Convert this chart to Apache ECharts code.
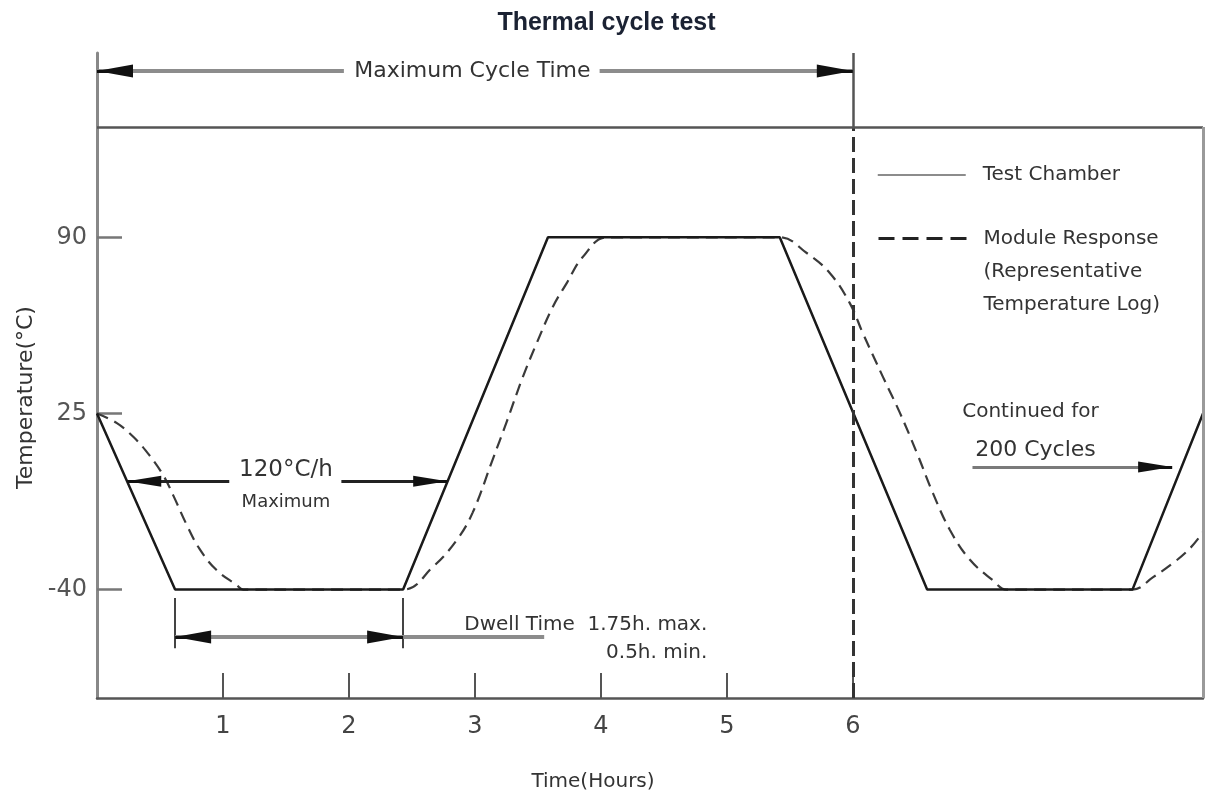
<!DOCTYPE html>
<html><head><meta charset="utf-8">
<script src="https://cdn.jsdelivr.net/npm/echarts@6.0.0/dist/echarts.min.js"></script>
<style>html,body{margin:0;padding:0;background:#fff}#c{width:1213px;height:799px}</style>
</head><body><div id="c"></div>
<script>
// ---- data (hours, °C) ----
const chamberTime = [0, 0.62, 2.43, 3.58, 5.42, 6.59, 8.22, 8.78];
const chamberTemp = [25, -40, -40, 90, 90, -40, -40, 25];
const moduleTime = [0, 0.155, 0.29, 0.417, 0.528, 0.608, 0.711, 0.814, 0.949, 1.108, 1.16, 2.43,
  2.665, 2.856, 2.983, 3.141, 3.253, 3.38, 3.491, 3.618, 3.729, 3.856, 4.05, 5.42,
  5.634, 5.817, 5.976, 6.079, 6.24, 6.374, 6.509, 6.636, 6.771, 6.93, 7.11, 7.22, 8.22,
  8.384, 8.543, 8.678, 8.78];
const moduleTemp = [25, 21.5, 16.3, 9.5, 2, -5.5, -16, -25, -32.8, -38.3, -40, -40,
  -31.7, -21.7, -11.5, 8, 22, 38.4, 51, 64.3, 73.1, 82.7, 90, 90,
  84.2, 76.8, 65.7, 54.7, 38.4, 25.2, 10.4, -4.4, -18, -29, -36.5, -40, -40,
  -35.4, -30.2, -24.7, -18.8];
const xTickValues = [1, 2, 3, 4, 5, 6];
const yTickValues = [-40, 25, 90];
const seriesNames = ['Test Chamber', 'Module Response (Representative Temperature Log)'];
const moduleLegendText = '\n\nModule Response\n(Representative\nTemperature Log)';
const titleText = 'Thermal cycle test';
const xName = 'Time(Hours)';
const yName = 'Temperature(°C)';

// annotation lines: [x1, y1, x2, y2, style]
const annoLines = [
  [0, 151.4, 1.96, 151.4, 'dimGrey'],
  [3.99, 151.4, 6, 151.4, 'dimGrey'],
  [6, 130.7, 6, 158, 'frame'],
  [6, -80, 6, 130.7, 'dash6'],
  [0, 130.7, 8.78, 130.7, 'frame'],
  [8.78, -80, 8.78, 130.7, 'frameLight'],
  [0.24, 0, 1.05, 0, 'dimBlack'],
  [1.94, 0, 2.78, 0, 'dimBlack'],
  [0.62, -43.1, 0.62, -61.6, 'tick'],
  [2.43, -43.1, 2.43, -61.6, 'tick'],
  [0.62, -57.5, 3.55, -57.5, 'dimGrey'],
  [6.95, 5.2, 8.535, 5.2, 'dimGrey2']
];
// arrow heads: [tipX, tipY, inward direction (+1 / -1 along x), size]
const arrowHeads = [
  [0, 151.4, 1, 'big'],
  [6, 151.4, -1, 'big'],
  [0.24, 0, 1, 'mid'],
  [2.78, 0, -1, 'mid'],
  [0.62, -57.5, 1, 'big'],
  [2.43, -57.5, -1, 'big'],
  [8.535, 5.2, -1, 'mid']
];
// annotation texts: [text, x, y, fontSize, align]
const annoTexts = [
  ['Maximum Cycle Time', 2.98, 151.4, 22, 'center'],
  ['120°C/h', 1.5, 4.1, 23, 'center'],
  ['Maximum', 1.5, -7.7, 18, 'center'],
  ['Dwell Time  1.75h. max.\n0.5h. min.', 4.845, -58.2, 20, 'right'],
  ['Continued for', 7.41, 25.5, 20, 'center'],
  ['200 Cycles', 7.45, 11.5, 22, 'center']
];

// ---- styles ----
const FONT = 'DejaVu Sans';
const lineStyles = {
  dimGrey: {color: '#8c8c8c', width: 4, type: 'solid'},
  dimGrey2: {color: '#7a7a7a', width: 3, type: 'solid'},
  dimBlack: {color: '#222', width: 3, type: 'solid'},
  frame: {color: '#555', width: 2.5, type: 'solid'},
  frameLight: {color: '#9a9a9a', width: 3, type: 'solid'},
  dash6: {color: '#333', width: 3, type: [15, 6]},
  tick: {color: '#444', width: 2, type: 'solid'},
  head: {color: '#111', width: 3, type: 'solid'}
};
const arrowSizes = {big: [13, 36], mid: [11, 34]};

const markLineData = annoLines.map(a => [
  {coord: [a[0], a[1]], symbol: 'none', lineStyle: lineStyles[a[4]]},
  {coord: [a[2], a[3]], symbol: 'none', lineStyle: lineStyles[a[4]]}
]).concat(arrowHeads.map(h => {
  const s = arrowSizes[h[3]];
  return [
    {coord: [h[0], h[1]], symbol: 'triangle', symbolSize: s, symbolOffset: [0, s[1] / 2], lineStyle: lineStyles.head},
    {coord: [h[0] + h[2] * 0.12, h[1]], symbol: 'none', lineStyle: lineStyles.head}
  ];
}));
const markPointData = annoTexts.map(t => ({
  coord: [t[1], t[2]],
  label: {show: true, formatter: t[0], fontSize: t[3], align: t[4], position: 'inside',
          color: '#333', fontFamily: FONT, lineHeight: 28}
}));

const chart = echarts.init(document.getElementById('c'), null, {renderer: 'canvas'});
chart.setOption({
  animation: false,
  backgroundColor: '#fff',
  title: {text: titleText, left: 'center', top: 6,
    textStyle: {fontSize: 25, fontWeight: 'bold', color: '#1b2233', fontFamily: 'Liberation Sans'}},
  legend: [
    {data: [seriesNames[0]], left: 877, top: 165, padding: 0, itemWidth: 88, itemHeight: 20,
     selectedMode: false, itemStyle: {opacity: 0},
     lineStyle: {color: '#666', width: 1.5, type: 'solid'},
     textStyle: {fontSize: 20, color: '#333', lineHeight: 20, padding: [0, 0, 0, 12], fontFamily: FONT}},
    {data: [seriesNames[1]], left: 877, top: 156, padding: 0, itemWidth: 88, itemHeight: 20,
     selectedMode: false, itemStyle: {opacity: 0},
     lineStyle: {color: '#222', width: 3, type: [16, 8]},
     formatter: () => moduleLegendText,
     textStyle: {fontSize: 20, color: '#333', lineHeight: 33, padding: [0, 0, 0, 12], fontFamily: FONT}}
  ],
  grid: {left: 97, right: 10, top: 53, bottom: 101},
  xAxis: {
    type: 'value', min: 0, max: 8.78,
    axisLine: {onZero: false, lineStyle: {color: '#555', width: 2.5}},
    axisTick: {customValues: xTickValues, inside: true, length: 25, lineStyle: {color: '#555', width: 2}},
    axisLabel: {customValues: xTickValues, fontSize: 24, color: '#444', margin: 17, fontFamily: FONT},
    splitLine: {show: false},
    name: xName, nameLocation: 'middle', nameGap: 74,
    nameTextStyle: {fontSize: 20, color: '#333', fontFamily: FONT, padding: [0, 114, 0, 0]}
  },
  yAxis: {
    type: 'value', min: -80, max: 158,
    axisLine: {lineStyle: {color: '#888', width: 3}},
    axisTick: {customValues: yTickValues, inside: true, length: 25, lineStyle: {color: '#777', width: 2.5}},
    axisLabel: {customValues: yTickValues, fontSize: 24, color: '#555', margin: 10, fontFamily: FONT},
    splitLine: {show: false},
    name: yName, nameLocation: 'middle', nameGap: 60,
    nameTextStyle: {fontSize: 22, color: '#333', fontFamily: FONT, padding: [0, 44, 0, 0]}
  },
  series: [
    {
      name: seriesNames[0], type: 'line', symbol: 'none', z: 3,
      data: chamberTime.map((t, i) => [t, chamberTemp[i]]),
      lineStyle: {color: '#1a1a1a', width: 2.5},
      markLine: {silent: true, symbol: 'none', label: {show: false}, data: markLineData},
      markPoint: {silent: true, symbol: 'circle', symbolSize: 1, itemStyle: {color: 'rgba(0,0,0,0)'},
                  data: markPointData}
    },
    {
      name: seriesNames[1], type: 'line', symbol: 'none', z: 2,
      smooth: 0.4,
      data: moduleTime.map((t, i) => [t, moduleTemp[i]]),
      lineStyle: {color: '#3a3a3a', width: 2.2, type: [12, 7]}
    }
  ]
});
</script></body></html>
